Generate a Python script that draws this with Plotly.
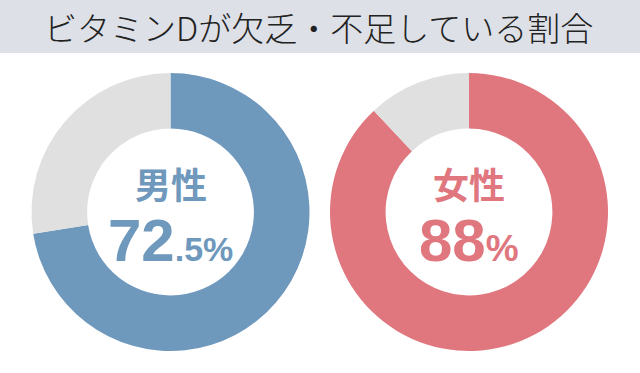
import plotly.graph_objects as go

title_text = "ビタミンDが欠乏・不足している割合"
categories = ["男性", "女性"]
deficient = [72.5, 88]
rest = [27.5, 12]
colors = ["#6f98bd", "#e0777f"]
rest_color = "#e0e0e0"

W, H = 640, 373
FONT = "Noto Sans CJK JP"
NUMFONT = "Liberation Sans, Roboto, Noto Sans CJK JP"

fig = go.Figure()

# pixel geometry of the donuts: (left, right, top, bottom)
boxes = [(31.5, 309.5, 73, 351), (330, 608, 73, 351)]

annotations = []
for i, cat in enumerate(categories):
    l, r, t, b = boxes[i]
    fig.add_trace(go.Pie(
        values=[deficient[i], rest[i]],
        labels=["不足", "その他"],
        marker=dict(colors=[colors[i], rest_color], line=dict(width=0)),
        hole=0.6,
        sort=False,
        direction="clockwise",
        rotation=0,
        textinfo="none",
        hoverinfo="skip",
        showlegend=False,
        domain=dict(x=[l / W, r / W], y=[(H - b) / H, (H - t) / H]),
    ))
    cx = (l + r) / 2 / W
    v = deficient[i]
    s = f"{v:g}"
    if "." in s:
        ip, dp = s.split(".")
        num = f"{ip}<span style='font-size:34px'>.{dp}%</span>"
    else:
        num = f"{s}<span style='font-size:37px'>%</span>"
    annotations.append(dict(
        x=cx, y=(H - 183) / H, xref="paper", yref="paper",
        text=f"<b>{cat}</b>", showarrow=False,
        font=dict(family=FONT, size=36, color=colors[i]),
        xanchor="center", yanchor="middle",
    ))
    annotations.append(dict(
        x=cx, y=(H - 240) / H, xref="paper", yref="paper",
        text=f"<b>{num}</b>", showarrow=False,
        font=dict(family=NUMFONT, size=60, color=colors[i]),
        xanchor="center", yanchor="middle",
    ))

annotations.append(dict(
    x=0.497, y=(H - 27) / H, xref="paper", yref="paper",
    text=title_text, showarrow=False,
    font=dict(family=FONT, size=33, color="#222222", weight=300),
    xanchor="center", yanchor="middle",
))

fig.update_layout(
    width=W, height=H,
    margin=dict(l=0, r=0, t=0, b=0),
    paper_bgcolor="white",
    plot_bgcolor="white",
    annotations=annotations,
    shapes=[dict(type="rect", xref="paper", yref="paper",
                 x0=0, x1=1, y0=(H - 53) / H, y1=1,
                 fillcolor="#dde0e6", line=dict(width=0), layer="below")],
)

fig.write_html("out.html",
               config={"displayModeBar": False},
               post_script="document.body.style.margin='0px';document.body.style.padding='0px';")
